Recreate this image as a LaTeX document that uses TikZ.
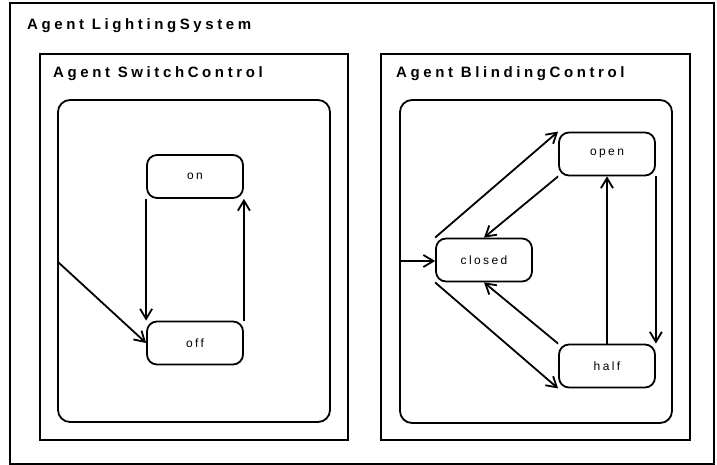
\documentclass[tikz,border=0pt]{standalone}
\usepackage{fontspec}
\setmainfont{Liberation Sans}
\newfontfamily\titlefont[LetterSpace=24]{Liberation Sans Bold}
\newfontfamily\statefont[LetterSpace=20]{Liberation Sans}
\usetikzlibrary{arrows.meta}
\begin{document}
\begin{tikzpicture}[x=1pt,y=-1pt,
  frame/.style={draw,line width=1.8pt},
  region/.style={draw,line width=1.8pt,rounded corners=12pt},
  state/.style={draw,line width=1.8pt,rounded corners=10pt,minimum width=96pt,
    minimum height=43pt,inner sep=0pt,font=\statefont\fontsize{12}{14}\selectfont},
  title/.style={anchor=base west,inner sep=0pt,font=\titlefont\fontsize{15}{18}\selectfont},
  trans/.style={line width=1.8pt,-{Straight Barb[length=10pt,width=12pt,line width=1.8pt]}}
]
\useasboundingbox (0,0) rectangle (717,465);

% outer agent and its two sub-agents
\draw[frame] (10,3) rectangle (714,464);
\node[title] (tls) at (27,29.5) {Agent LightingSystem};
\draw[frame] (40,54) rectangle (348,440);
\node[title] (tsc) at (53,77.5) {Agent SwitchControl};
\draw[frame] (381,54) rectangle (690,440);
\node[title] (tbc) at (396,77.5) {Agent BlindingControl};

% state machine regions
\draw[region] (58,100) rectangle (330,422);
\draw[region] (400,100) rectangle (672,423);

% SwitchControl states
\node[state] (on)  at (195,176.5) {on};
\node[state] (off) at (195,343) {off};
\coordinate (sinit) at (58,262);
\draw[trans] (sinit) -- (off.west);
\draw[trans] (on.south west) -- (off.north west);
\draw[trans] (off.north east) -- (on.south east);

% BlindingControl states
\node[state] (open)   at (607,154) {open};
\node[state] (closed) at (484,260) {closed};
\node[state] (half)   at (607,366) {half};
\coordinate (binit) at (400,261);
\draw[trans] (binit) -- (binit -| closed.west);
\draw[trans] (closed.north west) -- (open.north west);
\draw[trans] (open.south west) -- (closed.north);
\draw[trans] (closed.south west) -- (half.south west);
\draw[trans] (half.north west) -- (closed.south);
\draw[trans] (half.north) -- (open.south);
\draw[trans] (open.south east) -- (half.north east);
\end{tikzpicture}
\end{document}
